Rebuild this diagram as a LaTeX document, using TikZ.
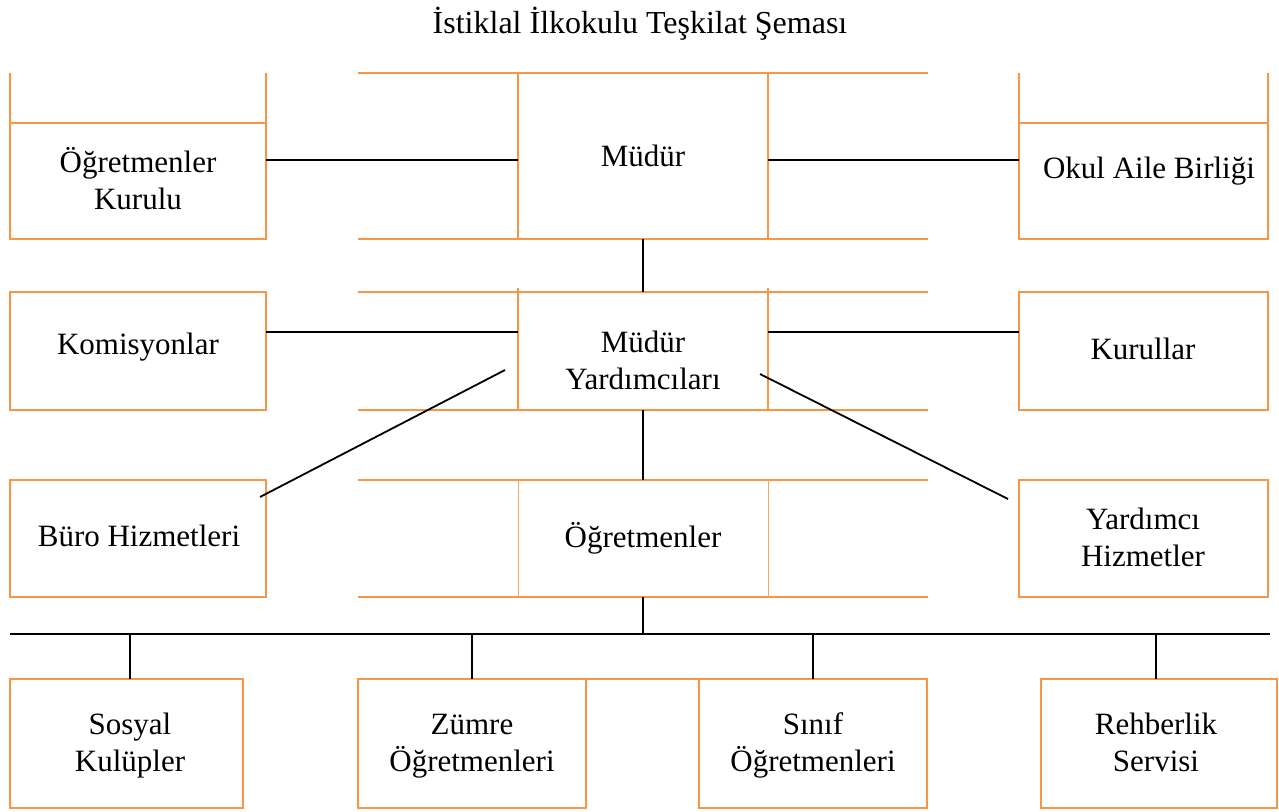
\documentclass[tikz,border=0pt]{standalone}
\usepackage{fontspec}
\setmainfont{Liberation Serif}
\definecolor{boxorange}{HTML}{F79646}
\begin{document}
\begin{tikzpicture}[x=1pt,y=-1pt,
  box/.style={draw=boxorange,line width=1.7pt,inner sep=0pt,outer sep=0pt,rectangle},
  ghost/.style={draw=none,inner sep=0pt,outer sep=0pt,rectangle},
  tab/.style={draw=boxorange,line width=1.7pt},
  thintab/.style={draw=boxorange!85,line width=1pt},
  link/.style={draw=black,line width=1.8pt},
  lbl/.style={font=\fontsize{31}{37}\selectfont,align=center,anchor=base,inner sep=0pt}]
\useasboundingbox (0,0) rectangle (1279,811);

% ---- boxes row 1
\node[box,minimum width=256pt,minimum height=116pt] (okB) at (138,181) {};
\node[box,minimum width=250pt,minimum height=166pt] (mudB) at (643,156) {};
\node[box,minimum width=249pt,minimum height=116pt] (oabB) at (1143.5,181) {};
\draw[tab] (okB.north west) -- ++(0,-50);
\draw[tab] (okB.north east) -- ++(0,-50);
\draw[tab] (oabB.north west) -- ++(0,-50);
\draw[tab] (oabB.north east) -- ++(0,-50);
\draw[tab] (mudB.north west) -- ++(-160,0);
\draw[tab] (mudB.north east) -- ++(160,0);
\draw[tab] (mudB.south west) -- ++(-160,0);
\draw[tab] (mudB.south east) -- ++(160,0);

% ---- boxes row 2
\node[box,minimum width=256pt,minimum height=118pt] (komB) at (138,351) {};
\node[box,minimum width=250pt,minimum height=118pt] (myB) at (643,351) {};
\node[box,minimum width=249pt,minimum height=118pt] (kurB) at (1143.5,351) {};
\draw[tab] (myB.north west) -- ++(-160,0);
\draw[tab] (myB.north east) -- ++(160,0);
\draw[tab] (myB.south west) -- ++(-160,0);
\draw[tab] (myB.south east) -- ++(160,0);
\draw[tab] (myB.north west) -- ++(0,-4);
\draw[tab] (myB.north east) -- ++(0,-4);

% ---- boxes row 3
\node[box,minimum width=256pt,minimum height=117pt] (buroB) at (138,538.5) {};
\node[ghost,minimum width=250pt,minimum height=117pt] (ogrB) at (643,538.5) {};
\node[box,minimum width=249pt,minimum height=117pt] (yhB) at (1143.5,538.5) {};
\draw[tab] ([xshift=-160pt]ogrB.north west) -- ([xshift=160pt]ogrB.north east);
\draw[tab] ([xshift=-160pt]ogrB.south west) -- ([xshift=160pt]ogrB.south east);
\draw[thintab] (ogrB.north west) -- (ogrB.south west);
\draw[thintab] (ogrB.north east) -- (ogrB.south east);

% ---- boxes row 4
\node[box,minimum width=233pt,minimum height=129pt] (skB) at (126.5,743.5) {};
\node[box,minimum width=228pt,minimum height=129pt] (zoB) at (472,743.5) {};
\node[box,minimum width=228pt,minimum height=129pt] (soB) at (813,743.5) {};
\node[box,minimum width=236pt,minimum height=129pt] (rsB) at (1159,743.5) {};
\draw[tab] (zoB.north east) -- (soB.north west);

% ---- texts (multi-line: base = baseline of last line)
\node[lbl,font=\fontsize{32}{38}\selectfont] (tTitle) at (640,33) {İstiklal İlkokulu Teşkilat Şeması};
\node[lbl] (tOK) at (138,209) {Öğretmenler\\Kurulu};
\node[lbl] (tMud) at (643,166) {Müdür};
\node[lbl] (tOAB) at (1149,178) {Okul Aile Birliği};
\node[lbl] (tKom) at (138,354) {Komisyonlar};
\node[lbl] (tMY) at (643,389.5) {Müdür\\Yardımcıları};
\node[lbl] (tKur) at (1143,359) {Kurullar};
\node[lbl] (tBuro) at (139,546.7) {Büro Hizmetleri};
\node[lbl] (tOgr) at (643,547) {Öğretmenler};
\node[lbl] (tYH) at (1143,566) {Yardımcı\\Hizmetler};
\node[lbl] (tSK) at (130,771.7) {Sosyal\\Kulüpler};
\node[lbl] (tZO) at (472,771.7) {Zümre\\Öğretmenleri};
\node[lbl] (tSO) at (813,771.7) {Sınıf\\Öğretmenleri};
\node[lbl] (tRS) at (1156,771.7) {Rehberlik\\Servisi};

% ---- connectors
\draw[link] ([yshift=-4pt]mudB.west -| okB.east) -- ([yshift=-4pt]mudB.west);
\draw[link] ([yshift=-4pt]mudB.east) -- ([yshift=-4pt]mudB.east -| oabB.west);
\draw[link] (mudB.south) -- (myB.north);
\draw[link] ([yshift=19pt]myB.west -| komB.east) -- ([yshift=19pt]myB.west);
\draw[link] ([yshift=19pt]myB.east) -- ([yshift=19pt]myB.east -| kurB.west);
\draw[link] ([shift={(-13pt,-19pt)}]myB.west) -- ([shift={(-6pt,-17pt)}]buroB.north east);
\draw[link] ([shift={(-8pt,-23pt)}]myB.east) -- ([shift={(-11pt,-19pt)}]yhB.north west);
\draw[link] (myB.south) -- (ogrB.north);
\coordinate (busL) at (10,634);
\coordinate (busR) at (1270,634);
\draw[link] (busL) -- (busR);
\draw[link] (ogrB.south) -- (ogrB.south |- busL);
\draw[link] ([xshift=3.5pt]skB.north |- busL) -- ([xshift=3.5pt]skB.north);
\draw[link] (zoB.north |- busL) -- (zoB.north);
\draw[link] (soB.north |- busL) -- (soB.north);
\draw[link] ([xshift=-3pt]rsB.north |- busL) -- ([xshift=-3pt]rsB.north);
\end{tikzpicture}
\end{document}
